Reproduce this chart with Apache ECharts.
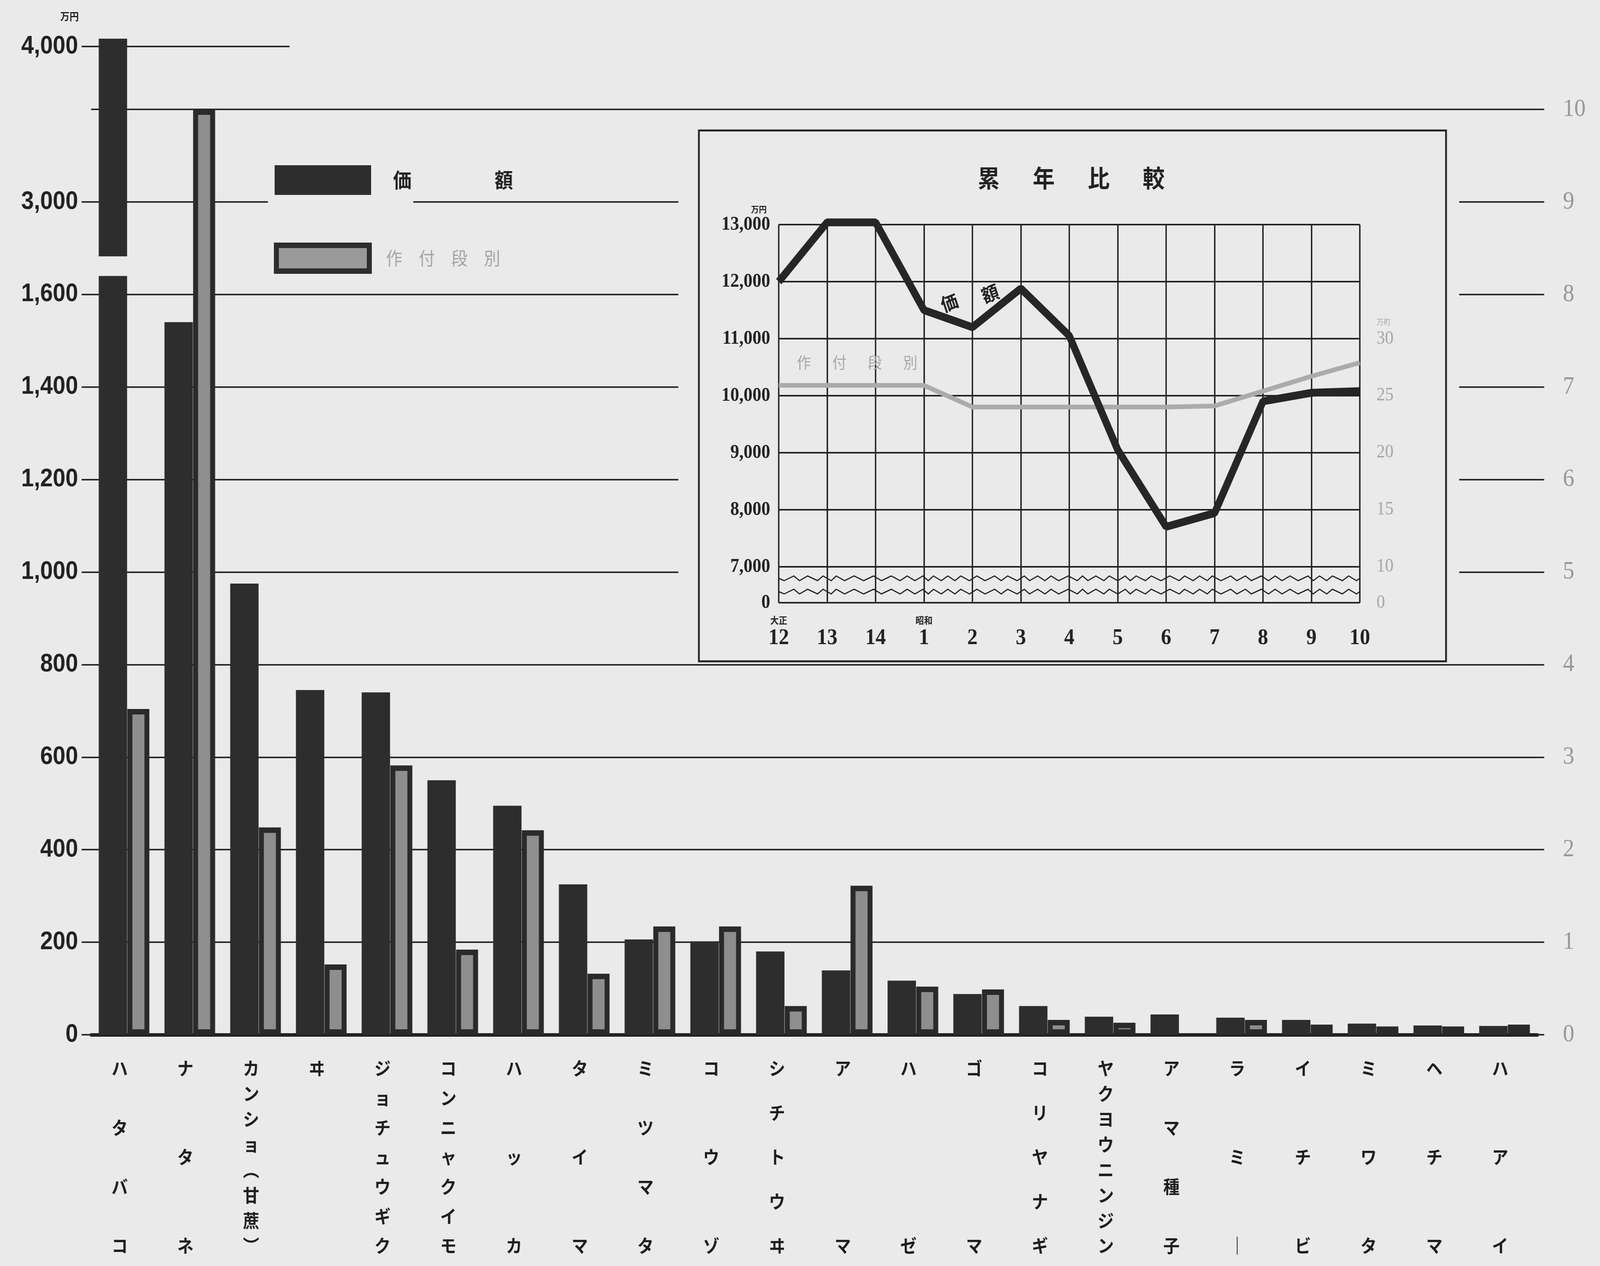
<!DOCTYPE html>
<html><head><meta charset="utf-8">
<script src="https://cdn.jsdelivr.net/npm/echarts@6/dist/echarts.min.js"></script>
<style>html,body{margin:0;padding:0;background:#eaeaea;overflow:hidden;} #c{width:4510px;height:3241px;transform-origin:0 0;}</style>
</head><body><div id="c"></div>
<script>
// ---- data ----
const categories = ['ハタバコ','ナタネ','カンショ(甘蔗)','ヰ','ジョチュウギク','コンニャクイモ','ハッカ','タイマ','ミツマタ','コウゾ','シチトウヰ','アマ','ハゼ','ゴマ','コリヤナギ','ヤクヨウニンジン','アマ種子','ラミー','イチビ','ミワタ','ヘチマ','ハアイ'];
const valueAmount = [4050, 1540, 975, 745, 740, 550, 495, 325, 206, 202, 180, 139, 117, 88, 62, 39, 44, 37, 32, 24, 20, 19];
const plantedArea = [3.52, 10.0, 2.24, 0.76, 2.91, 0.92, 2.21, 0.66, 1.17, 1.17, 0.31, 1.61, 0.52, 0.49, 0.16, 0.13, null, 0.16, 0.11, 0.09, 0.09, 0.11];
const leftTicksLower = [0, 200, 400, 600, 800, 1000, 1200, 1400, 1600];
const leftTicksUpper = [3000, 4000];
const rightTicks = [0, 1, 2, 3, 4, 5, 6, 7, 8, 9, 10];
const years = ['大正12','13','14','昭和1','2','3','4','5','6','7','8','9','10'];
const yearlyAmount = [12000, 13040, 13040, 11500, 11200, 11880, 11050, 9050, 7700, 7940, 9900, 10050, 10080];
const yearlyArea = [25.9, 25.9, 25.9, 25.9, 24.0, 24.0, 24.0, 24.0, 24.0, 24.1, 25.4, 26.7, 27.9];
const insetLeftTicks = [0, 7000, 8000, 9000, 10000, 11000, 12000, 13000];
const insetRightTicks = [0, 10, 15, 20, 25, 30];

// ---- layout ----
const BG = '#eaeaea', INK = '#2a2a2a', BAR = '#2d2d2d';
const B = 2649, U = 236.9;
const GL = 257, GW = 4076.6;
const g0Top = 71.25;
const yMax0 = (B - g0Top) / U;
const g1Max = 1640, g1Top = B - (g1Max / 200) * U;
const lvl9 = B - 9 * U, px4000 = 119, s2 = (lvl9 - px4000) / 1000;
const g2Min = 2650, g2Max = 4120;
const g2Top = px4000 - (g2Max - 4000) * s2, g2Bottom = lvl9 + (3000 - g2Min) * s2;
const CJK = '"Noto Sans CJK JP"';
const nulls = categories.map(() => null);

const el = document.getElementById('c');
const vw = window.innerWidth, vh = window.innerHeight;
el.style.transform = 'scale(' + (vw / 4510) + ',' + (vh / 3241) + ')';

const span = 454;
const richVert = {};
for (let n = 2; n <= 8; n++) {
  richVert['s' + n] = {fontSize: 46, lineHeight: span / (n - 1), fontFamily: CJK, fontWeight: 'bold', color: '#1e1e1e', align: 'center'};
}
function vertLabel(v) {
  const s = v.replace('(', '︵').replace(')', '︶').replace('ー', '｜');
  const ch = Array.from(s);
  if (ch.length === 1) ch.push('\u3000');
  return '{s' + ch.length + '|' + ch.join('\n') + '}';
}
const fmtNum = v => Number(v).toLocaleString('en-US');
const lineSt = {color: INK, width: 4};

const chart = echarts.init(el, null, {width: 4510, height: 3241});
chart.setOption({
  backgroundColor: BG,
  animation: false,
  title: {
    text: '累\u3000\u2002年\u3000\u2002比\u3000\u2002較', left: 2756, top: 425, padding: 0, z: 10,
    textStyle: {fontSize: 62, fontWeight: 'bold', fontFamily: CJK, color: '#222'}
  },
  legend: {
    left: 767, top: 418, orient: 'vertical', itemWidth: 262, itemHeight: 66, itemGap: 122,
    icon: 'rect', selectedMode: false,
    data: [
      {name: '価額', itemStyle: {color: BAR, borderColor: BAR, borderWidth: 10},
       textStyle: {color: '#222', fontSize: 52, fontWeight: 'bold', fontFamily: CJK, padding: [0, 0, 0, 62]}},
      {name: '作付段別', itemStyle: {color: '#9a9a9a', borderColor: BAR, borderWidth: 14},
       textStyle: {color: '#a4a4a4', fontSize: 46, fontFamily: CJK, padding: [0, 0, 0, 42]}}
    ],
    formatter: n => n === '価額' ? '価\u3000\u3000\u3000\u3000\u2002額' : '作\u3000付\u3000段\u3000別'
  },
  graphic: [
    {type: 'rect', z: 4, shape: {x: 1912, y: 300, width: 2201, height: 1393}, style: {fill: BG}},
    {type: 'rect', z: 5, shape: {x: 1970, y: 334, width: 2106, height: 1359}, style: {fill: 'none', stroke: '#222', lineWidth: 5}},
    {type: 'rect', z: 3, shape: {x: 755, y: 503, width: 410, height: 28}, style: {fill: BG}},
    {type: 'text', z: 9, x: 2676, y: 775, rotation: 0.35, style: {text: '価', font: 'bold 48px "Noto Sans CJK JP"', fill: '#222', align: 'center', verticalAlign: 'middle', textAlign: 'center', textVerticalAlign: 'middle'}},
    {type: 'text', z: 9, x: 2791, y: 752, rotation: 0.35, style: {text: '額', font: 'bold 48px "Noto Sans CJK JP"', fill: '#222', align: 'center', verticalAlign: 'middle', textAlign: 'center', textVerticalAlign: 'middle'}},
    {type: 'text', z: 9, x: 2246, y: 928, style: {text: '作\u3000\u2002付\u3000\u2002段\u3000\u2002別', font: '40px "Noto Sans CJK JP"', fill: '#a8a8a8', verticalAlign: 'middle', textVerticalAlign: 'middle'}},
    {type: 'text', z: 9, x: 3880, y: 824, style: {text: '万町', font: '20px "Noto Sans CJK JP"', fill: '#a8a8a8', verticalAlign: 'middle', textVerticalAlign: 'middle'}}
  ],
  grid: [
    {left: GL, width: GW, top: g0Top, height: B - g0Top, outerBoundsMode: 'none', containLabel: false},
    {left: GL, width: GW, top: g1Top, height: B - g1Top, outerBoundsMode: 'none', containLabel: false},
    {left: GL, width: GW, top: g2Top, height: g2Bottom - g2Top, outerBoundsMode: 'none', containLabel: false},
    {left: 2195, width: 1638, top: 575, height: 968, outerBoundsMode: 'none', containLabel: false}
  ],
  xAxis: [
    {type: 'category', gridIndex: 0, data: categories,
     axisLine: {show: true, lineStyle: {color: '#222', width: 9}}, axisTick: {show: false}, splitLine: {show: false},
     axisLabel: {interval: 0, margin: 313, verticalAlign: 'middle', align: 'center', padding: [0, 25, 0, 0],
                 formatter: vertLabel, rich: richVert, color: '#1e1e1e', fontSize: 46, fontFamily: CJK}},
    {type: 'category', gridIndex: 1, data: categories, show: false},
    {type: 'category', gridIndex: 2, data: categories, show: false},
    {type: 'category', gridIndex: 3, data: years, boundaryGap: false, z: 6,
     axisLine: {show: false}, axisTick: {show: false},
     splitLine: {show: true, interval: 0, lineStyle: {color: '#222', width: 4}},
     axisLabel: {interval: 0, margin: 30, color: '#222',
       formatter: v => { const m = v.match(/^(\D*)(\d+)$/); return '{era|' + (m[1] || '\u3000') + '}\n{num|' + m[2] + '}'; },
       rich: {era: {fontSize: 24, lineHeight: 30, fontWeight: 'bold', fontFamily: CJK, color: '#222'},
              num: {fontSize: 58, lineHeight: 62, fontWeight: 'bold', fontFamily: '"Liberation Serif"', color: '#222'}}}}
  ],
  yAxis: [
    {type: 'value', gridIndex: 0, position: 'right', min: 0, max: yMax0,
     axisLine: {show: false},
     axisTick: {show: true, inside: false, length: 19, customValues: rightTicks, lineStyle: lineSt},
     splitLine: {show: true, lineStyle: lineSt},
     axisLabel: {customValues: rightTicks, margin: 72, color: '#979797', fontSize: 64, fontFamily: '"Liberation Serif"', align: 'left'}},
    {type: 'value', gridIndex: 1, position: 'left', offset: 27, min: 0, max: g1Max,
     axisLine: {show: false},
     axisTick: {show: true, inside: true, length: 27, customValues: leftTicksLower, lineStyle: lineSt},
     splitLine: {show: false},
     axisLabel: {customValues: leftTicksLower, formatter: fmtNum, margin: 10, fontSize: 64, fontWeight: 'bold',
                 fontFamily: '"Liberation Sans"', color: '#222', padding: [0, 0, 20, 0]}},
    {type: 'value', gridIndex: 2, position: 'left', offset: 27, min: g2Min, max: g2Max,
     axisLine: {show: false},
     axisTick: {show: true, inside: true, length: 586, customValues: leftTicksUpper, lineStyle: lineSt},
     splitLine: {show: false},
     axisLabel: {customValues: leftTicksUpper, formatter: fmtNum, margin: 10, fontSize: 64, fontWeight: 'bold',
                 fontFamily: '"Liberation Sans"', color: '#222', padding: [0, 0, 20, 0]},
     name: '万円', nameLocation: 'end', nameGap: 16,
     nameTextStyle: {fontSize: 26, fontWeight: 'bold', fontFamily: CJK, color: '#222', align: 'right', verticalAlign: 'bottom', padding: [0, 8, 0, 0]}},
    {type: 'value', gridIndex: 3, min: 0, max: 13000, z: 6,
     breaks: [{start: 200, end: 6800, gap: '3.5%'}],
     breakArea: {show: true, expandOnClick: false, zigzagAmplitude: 6, zigzagMinSpan: 14, zigzagMaxSpan: 28,
                 itemStyle: {color: 'rgba(0,0,0,0)', borderColor: '#222', borderWidth: 3, borderType: 'solid', opacity: 1}},
     axisLine: {show: false}, axisTick: {show: false, customValues: insetLeftTicks},
     splitLine: {show: true, lineStyle: {color: '#222', width: 4}},
     axisLabel: {customValues: insetLeftTicks, formatter: fmtNum, margin: 24, fontSize: 50, fontWeight: 'bold',
                 fontFamily: '"Liberation Serif"', color: '#222'},
     name: '万円', nameLocation: 'end', nameGap: 28,
     nameTextStyle: {fontSize: 22, fontWeight: 'bold', fontFamily: CJK, color: '#222', align: 'right', padding: [0, 34, 0, 0]}},
    {type: 'value', gridIndex: 3, position: 'right', min: 0, max: 40, z: 6,
     breaks: [{start: 1, end: 9, gap: '3.5%'}],
     breakArea: {show: false},
     axisLine: {show: false}, axisTick: {show: false, customValues: insetRightTicks},
     splitLine: {show: false},
     axisLabel: {customValues: insetRightTicks, margin: 47, fontSize: 48, fontFamily: '"Liberation Serif"', color: '#a6a6a6'}}
  ],
  series: [
    {type: 'bar', name: '価額', xAxisIndex: 1, yAxisIndex: 1, data: valueAmount, barWidth: 80, barGap: '1%', itemStyle: {color: BAR}, silent: true},
    {type: 'bar', name: '作付段別', xAxisIndex: 1, yAxisIndex: 1, data: nulls, barWidth: 62, barGap: '1%', silent: true},
    {type: 'bar', name: '価額', xAxisIndex: 2, yAxisIndex: 2, data: valueAmount, barWidth: 80, barGap: '1%', itemStyle: {color: BAR}, silent: true},
    {type: 'bar', name: '作付段別', xAxisIndex: 2, yAxisIndex: 2, data: nulls, barWidth: 62, barGap: '1%', silent: true},
    {type: 'bar', name: '価額', xAxisIndex: 0, yAxisIndex: 0, data: nulls, barWidth: 80, barGap: '1%', itemStyle: {color: BAR}, silent: true},
    {type: 'bar', name: '作付段別', xAxisIndex: 0, yAxisIndex: 0, data: plantedArea, barWidth: 62, barGap: '1%',
     itemStyle: {color: '#8e8e8e', borderColor: INK, borderWidth: 14}, silent: true},
    {type: 'line', name: '価額(累年)', xAxisIndex: 3, yAxisIndex: 3, data: yearlyAmount, symbol: 'none', clip: false, z: 8,
     lineStyle: {color: '#262626', width: 20}, silent: true},
    {type: 'line', name: '作付段別(累年)', xAxisIndex: 3, yAxisIndex: 4, data: yearlyArea, symbol: 'none', clip: false, z: 7,
     lineStyle: {color: '#ababab', width: 12}, silent: true}
  ]
});
</script>
</body></html>
